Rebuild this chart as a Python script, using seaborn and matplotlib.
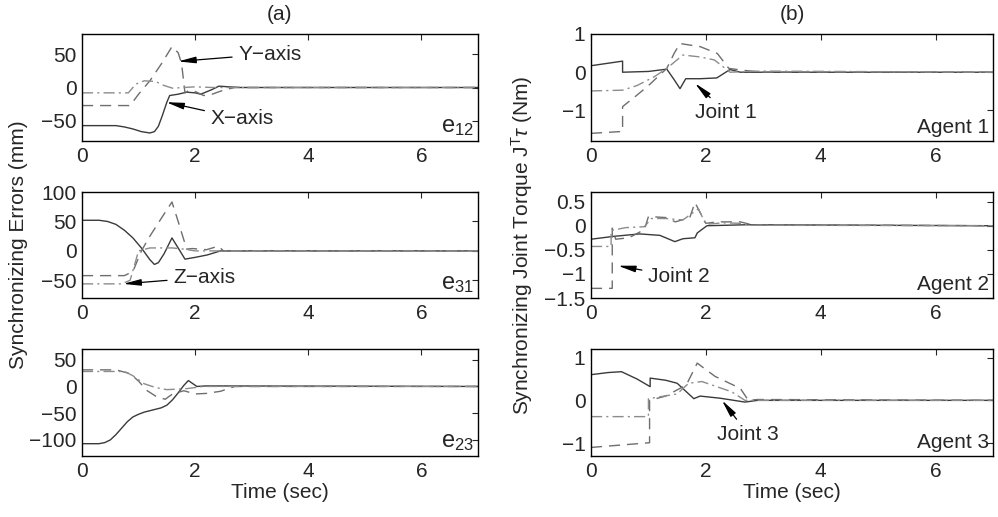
import matplotlib
matplotlib.use("Agg")
import matplotlib.pyplot as plt
import seaborn as sns

# ---------------- data ----------------
# (a) e12
E12_X_T = [0, 0.6, 0.75, 0.9, 1.05, 1.2, 1.28, 1.35, 1.42, 1.5, 1.55, 1.7, 1.85, 2.0, 2.1, 2.3, 2.42, 2.6, 2.8, 7]
E12_X_V = [-57, -57, -59, -62, -66, -68, -66, -58, -42, -22, -12, -10, -7, -8, -10, -3, 2, 1, 0, 0]
E12_Y_T = [0, 0.85, 1.0, 1.2, 1.4, 1.59, 1.7, 1.76, 1.82, 1.9, 2.0, 2.15, 2.3, 2.5, 2.7, 7]
E12_Y_V = [-27, -27, -10, 10, 35, 61, 52, 36, -8, -4, -6, -12, -10, -4, 0, 0]
E12_Z_T = [0, 0.82, 0.95, 1.1, 1.3, 1.45, 1.6, 1.8, 2.0, 2.3, 7]
E12_Z_V = [-8, -8, 5, 10, 9, 3, -1, 0, 1, 0, 0]
# (a) e31
E31_X_T = [0, 0.3, 0.45, 0.6, 0.75, 0.9, 1.05, 1.2, 1.28, 1.35, 1.45, 1.59, 1.7, 1.82, 2.0, 2.21, 2.45, 7]
E31_X_V = [52, 52, 50, 45, 35, 22, 5, -15, -23, -20, -5, 22, 5, -14, -11, -7, 0, 0]
E31_Y_T = [0, 0.75, 0.9, 1.05, 1.2, 1.4, 1.59, 1.7, 1.85, 1.95, 2.2, 2.41, 2.5, 7]
E31_Y_V = [-42, -42, -35, 0, 25, 55, 83, 50, 3, 4, 2, 8, 0, 0]
E31_Z_T = [0, 0.7, 0.85, 1.0, 1.2, 1.6, 1.8, 2.0, 7]
E31_Z_V = [-56, -56, -50, 0, 5, 5, 3, 0, 0]
# (a) e23
E23_X_T = [0, 0.3, 0.4, 0.5, 0.6, 0.7, 0.8, 0.9, 1.0, 1.1, 1.25, 1.4, 1.5, 1.6, 1.7, 1.8, 1.88, 2.03, 2.2, 7]
E23_X_V = [-107, -107, -105, -100, -90, -78, -66, -57, -52, -48, -44, -40, -35, -25, -12, 2, 11, 0, 1, 0]
E23_Y_T = [0, 0.6, 0.85, 1.0, 1.14, 1.3, 1.47, 1.6, 1.8, 2.0, 2.2, 2.45, 2.7, 7]
E23_Y_V = [31, 31, 24, 10, -7, -18, -24, -14, -8, -14, -13, -9, 0, 0]
E23_Z_T = [0, 0.75, 0.9, 1.1, 1.3, 1.5, 1.86, 2.15, 7]
E23_Z_V = [28, 28, 20, 5, -2, -6, -4, 0, 0]
# (b) Agent 1
A1_J1_T = [0, 0.55, 0.55, 1.0, 1.32, 1.45, 1.55, 1.65, 1.9, 2.19, 2.42, 2.6, 7]
A1_J1_V = [0.17, 0.29, 0.0, 0.02, 0.08, -0.2, -0.43, -0.17, -0.17, -0.15, 0.07, 0, 0]
A1_J2_T = [0, 0.55, 0.55, 0.8, 1.0, 1.32, 1.45, 1.55, 1.9, 2.2, 2.4, 2.65, 3.0, 7]
A1_J2_V = [-1.6, -1.55, -0.9, -0.6, -0.35, 0.1, 0.5, 0.75, 0.67, 0.49, 0.1, 0.05, 0, 0]
A1_J3_T = [0, 0.55, 0.8, 1.1, 1.32, 1.6, 1.9, 2.15, 2.42, 2.95, 7]
A1_J3_V = [-0.49, -0.47, -0.35, -0.12, 0.1, 0.45, 0.4, 0.32, 0.0, 0.03, 0]
# (b) Agent 2
A2_J1_T = [0, 0.4, 0.85, 1.2, 1.46, 1.6, 1.81, 1.85, 2.02, 2.7, 7]
A2_J1_V = [-0.28, -0.22, -0.17, -0.2, -0.33, -0.27, -0.25, -0.15, 0.0, 0.02, 0]
A2_J2_T = [0, 0.37, 0.37, 0.43, 0.66, 0.93, 1.0, 1.3, 1.47, 1.72, 1.81, 2.0, 2.2, 2.6, 2.8, 7]
A2_J2_V = [-1.3, -1.3, -0.05, -0.28, -0.25, -0.08, 0.19, 0.17, 0.08, 0.17, 0.48, 0.05, 0.08, 0.08, 0.02, 0]
A2_J3_T = [0, 0.35, 0.35, 0.6, 0.93, 1.05, 1.3, 1.6, 1.87, 2.0, 2.3, 2.6, 2.8, 7]
A2_J3_V = [-0.43, -0.43, -0.1, -0.04, -0.02, 0.15, 0.15, 0.12, 0.35, 0.03, 0.06, 0.05, 0.01, 0]
# (b) Agent 3
A3_J1_T = [0, 0.3, 0.53, 0.8, 1.03, 1.03, 1.3, 1.5, 1.79, 1.9, 2.25, 2.68, 2.9, 7]
A3_J1_V = [0.6, 0.65, 0.67, 0.5, 0.32, 0.52, 0.47, 0.4, 0.04, 0.1, 0.05, -0.04, 0, 0]
A3_J2_T = [0, 1.02, 1.02, 1.3, 1.66, 1.85, 2.16, 2.6, 2.74, 2.9, 7]
A3_J2_V = [-1.1, -0.99, 0.0, 0.1, 0.36, 0.87, 0.56, 0.28, 0.0, 0.02, 0]
A3_J3_T = [0, 1.0, 1.0, 1.5, 1.7, 1.93, 2.45, 2.68, 7]
A3_J3_V = [-0.38, -0.38, 0.04, 0.15, 0.4, 0.44, 0.2, 0.0, 0]

X_TICKS = [0, 2, 4, 6]
TICKS_E12 = [-50, 0, 50]
TICKS_E31 = [-50, 0, 50, 100]
TICKS_E23 = [-100, -50, 0, 50]
TICKS_A1 = [-1, 0, 1]
TICKS_A2 = [-1.5, -1, -0.5, 0, 0.5]
TICKS_A3 = [-1, 0, 1]

# ---------------- style ----------------
sns.set_style("white")
plt.rcParams['font.family'] = ['Liberation Sans', 'DejaVu Sans']
plt.rcParams['mathtext.fontset'] = 'custom'
plt.rcParams['mathtext.rm'] = 'Liberation Sans'
plt.rcParams['mathtext.it'] = 'Liberation Sans:italic'
FS = 15

fig = plt.figure(figsize=(9.98, 5.17), dpi=100)
W, H = 998, 517


def make_ax(x0, x1, y0, y1):
    return fig.add_axes([x0 / W, 1 - y1 / H, (x1 - x0) / W, (y1 - y0) / H])


rows = [(34, 141), (192, 298), (349, 456)]
left = [make_ax(82, 478, a, b) for a, b in rows]
right = [make_ax(591, 993, a, b) for a, b in rows]

C_SOLID = '#3a3a3a'
C_DASH = '#6e6e6e'
C_DOT = '#8c8c8c'


def draw(ax, series, ylim, yticks, yfmt=None):
    styles = [(C_SOLID, '-'), (C_DASH, (0, (8, 5))), (C_DOT, (0, (8, 3, 1.5, 3)))]
    for (t, v), (c, ls) in zip(series, styles):
        sns.lineplot(x=t, y=v, ax=ax, estimator=None, sort=False, color=c,
                     linestyle=ls, linewidth=1.0)
    ax.set_xlim(0, 7)
    ax.set_ylim(*ylim)
    ax.set_xticks(X_TICKS)
    ax.set_yticks(yticks)
    if yfmt:
        ax.set_yticklabels(yfmt)
    ax.tick_params(direction='in', top=True, right=True, labelsize=FS,
                   length=4, width=0.8, pad=4)
    for s in ax.spines.values():
        s.set_color('black')
        s.set_linewidth(1.0)
    ax.set_xlabel('')
    ax.set_ylabel('')


def fmt(vals):
    return [('%g' % v).replace('-', '\u2212') for v in vals]


draw(left[0], [(E12_X_T, E12_X_V), (E12_Y_T, E12_Y_V), (E12_Z_T, E12_Z_V)], (-80, 80), TICKS_E12, fmt(TICKS_E12))
draw(left[1], [(E31_X_T, E31_X_V), (E31_Y_T, E31_Y_V), (E31_Z_T, E31_Z_V)], (-80, 100), TICKS_E31, fmt(TICKS_E31))
draw(left[2], [(E23_X_T, E23_X_V), (E23_Y_T, E23_Y_V), (E23_Z_T, E23_Z_V)], (-130, 70), TICKS_E23, fmt(TICKS_E23))
draw(right[0], [(A1_J1_T, A1_J1_V), (A1_J2_T, A1_J2_V), (A1_J3_T, A1_J3_V)], (-1.8, 1.0), TICKS_A1, fmt(TICKS_A1))
draw(right[1], [(A2_J1_T, A2_J1_V), (A2_J2_T, A2_J2_V), (A2_J3_T, A2_J3_V)], (-1.5, 0.7), TICKS_A2, fmt(TICKS_A2))
draw(right[2], [(A3_J1_T, A3_J1_V), (A3_J2_T, A3_J2_V), (A3_J3_T, A3_J3_V)], (-1.3, 1.2), TICKS_A3, fmt(TICKS_A3))

left[0].set_title('(a)', fontsize=FS, pad=10)
right[0].set_title('(b)', fontsize=FS, pad=10)
left[2].set_xlabel('Time (sec)', fontsize=FS, labelpad=2)
right[2].set_xlabel('Time (sec)', fontsize=FS, labelpad=2)

fig.text(19 / W, 1 - 245 / H, 'Synchronizing Errors (mm)', rotation=90,
         ha='center', va='center', fontsize=FS)
fig.text(522 / W, 1 - 245 / H, r'Synchronizing Joint Torque $\mathregular{J^T}\tau$ (Nm)',
         rotation=90, ha='center', va='center', fontsize=FS)

for ax, lab in zip(left, ['12', '31', '23']):
    ax.text(0.99, 0.03, r'$\mathregular{e_{%s}}$' % lab, transform=ax.transAxes,
            ha='right', va='bottom', fontsize=FS + 2)
for ax, lab in zip(right, ['Agent 1', 'Agent 2', 'Agent 3']):
    ax.text(0.99, 0.04, lab, transform=ax.transAxes, ha='right', va='bottom', fontsize=FS)

arrow = dict(arrowstyle='-|>,head_length=0.7,head_width=0.13', color='black', lw=0.9,
             shrinkA=2, shrinkB=0)


def note(ax, text, tip, pos):
    ax.annotate(text.replace('-', '\u2212'), xy=tip, xytext=pos, ha='left', va='center',
                fontsize=FS, arrowprops=arrow)


note(left[0], 'Y-axis', (1.70, 39), (2.76, 50))
note(left[0], 'X-axis', (1.49, -22), (2.27, -47))
note(left[1], 'Z-axis', (0.73, -56), (1.61, -45))
note(right[0], 'Joint 1', (1.81, -0.29), (1.81, -1.05))
note(right[1], 'Joint 2', (0.47, -0.83), (0.99, -1.06))
note(right[2], 'Joint 3', (2.28, 0.0), (2.2, -0.79))

fig.savefig('out.png', dpi=100)
